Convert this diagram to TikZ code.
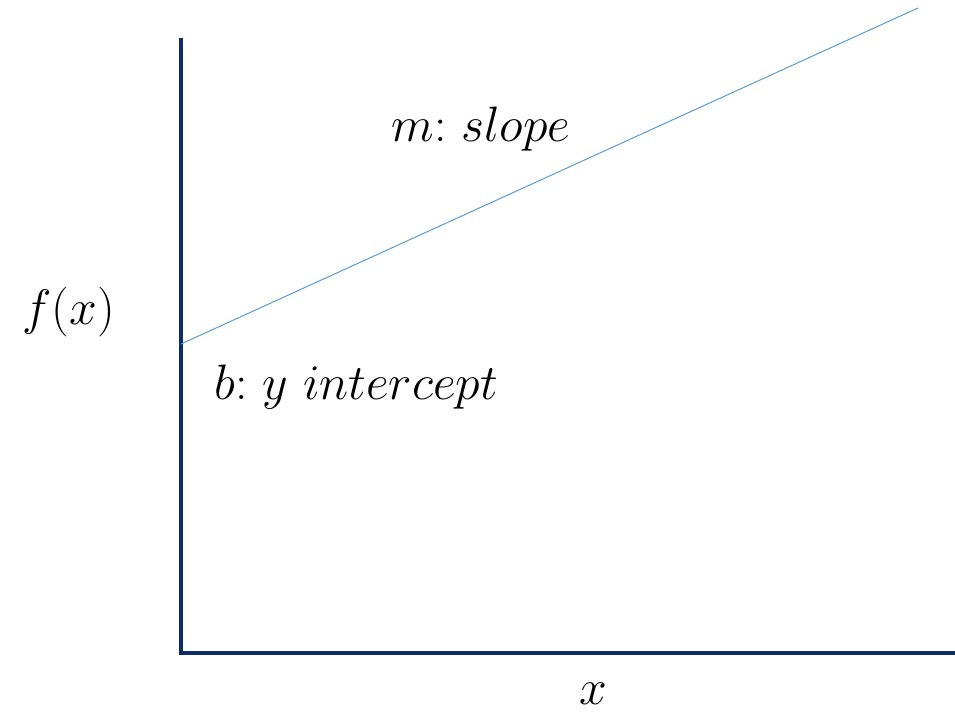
\documentclass[tikz,border=0pt]{standalone}
\usepackage{amsmath}
\usepackage{tikz}
\usetikzlibrary{positioning}
\definecolor{cAxis}{HTML}{0D2A6C}
\definecolor{cLine}{HTML}{5B9BD5}
\tikzset{
  axis/.style={draw=cAxis, line width=1.6pt},
  fline/.style={draw=cLine, line width=0.5pt},
  lbl/.style={font=\fontsize{24.88}{30}\selectfont, inner sep=0pt, anchor=base west},
}

\begin{document}
\begin{tikzpicture}[x=0.5pt, y=0.5pt]
  \useasboundingbox (0,0) rectangle (955,715);

  % axes
  \coordinate (ytop) at (181,677);
  \coordinate (origin) at (181,62);
  \coordinate (xend) at (955,62);
  \draw[axis] (ytop) -- (origin) -- (xend);

  % the line f(x) = m x + b
  \coordinate (icept) at (181,371);
  \coordinate (lend) at (918,707);
  \draw[fline] (icept) -- (lend);

  % labels
  \node[lbl] (slope) at (391,573) {$m{:}\ slope$};
  \node[lbl] (intercept) at (214,315) {$b{:}\ y\ intercept$};
  \node[lbl] (fx) at (22,390) {$f(x)$};
  \node[lbl] (xlab) at (579,10) {$x$};
\end{tikzpicture}
\end{document}
